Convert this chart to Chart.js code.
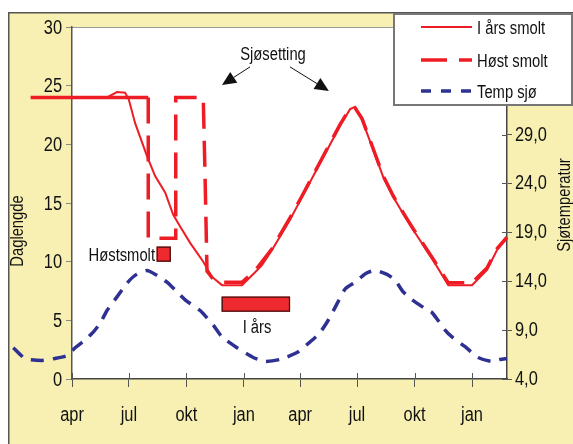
<!DOCTYPE html>
<html>
<head>
<meta charset="utf-8">
<script src="https://cdn.jsdelivr.net/npm/chart.js@4.4.1/dist/chart.umd.min.js"></script>
<style>
  html, body { margin: 0; padding: 0; background: #fff; }
  #wrap { width: 573px; height: 444px; position: relative; }
</style>
</head>
<body>
<div id="wrap"><canvas id="c" width="573" height="444"></canvas></div>
<script>
// ---------- DATA (x = days after 1 April, year 1) ----------
const monthTickDays = [0, 91, 183, 275, 365, 456, 548, 640];
const monthLabels   = ['apr', 'jul', 'okt', 'jan', 'apr', 'jul', 'okt', 'jan'];

const leftTicks  = [0, 5, 10, 15, 20, 25, 30];
const rightTicks = [4, 9, 14, 19, 24, 29, 34, 39];

// I års smolt (daylength, hours)
const aarsDays   = [-66, 56, 72, 85, 91, 101, 120, 133, 149, 162, 173, 189, 210, 224, 240, 272, 293, 304, 320, 349, 365, 386, 408, 429, 445, 453, 464, 480, 498, 514, 533, 546, 578, 602, 640, 664, 680, 696];
const aarsValues = [24.0, 24.0, 24.45, 24.4, 23.8, 21.8, 19.0, 17.3, 15.9, 14.0, 13.0, 11.6, 10.0, 8.7, 8.0, 8.0, 9.1, 9.7, 11.0, 13.6, 15.2, 17.3, 19.5, 21.6, 23.0, 23.2, 22.1, 19.8, 17.2, 15.5, 13.8, 12.7, 10.1, 8.0, 8.0, 9.3, 11.0, 12.0];

// Høst smolt (daylength, hours)
const hostDays   = [-66, 122, 122, 166, 166, 210, 213, 216, 226, 240, 272, 293, 320, 349, 365, 386, 408, 429, 445, 453, 464, 480, 498, 514, 533, 546, 578, 602, 640, 664, 680, 696];
const hostValues = [24.0, 24.0, 12.0, 12.0, 24.0, 24.0, 17.0, 9.2, 8.5, 8.25, 8.25, 9.25, 11.1, 13.75, 15.3, 17.4, 19.6, 21.7, 23.1, 23.1, 22.2, 19.9, 17.3, 15.6, 13.9, 12.8, 10.2, 8.2, 8.2, 9.45, 11.1, 12.1];

// Temp sjø (°C)
const tempDays   = [-94, -75, -48, -27, -8, 5, 21, 34, 45, 56, 72, 88, 101, 120, 136, 152, 165, 181, 205, 226, 240, 264, 290, 309, 333, 360, 381, 395, 408, 420, 437, 453, 470, 485, 504, 517, 530, 544, 565, 576, 597, 608, 629, 650, 672, 685, 696];
const tempValues = [7.2, 6.1, 5.9, 6.1, 6.4, 7.2, 8.0, 8.8, 9.7, 11.0, 12.4, 13.8, 14.6, 15.1, 14.6, 13.9, 13.1, 12.1, 11.0, 9.5, 8.3, 7.2, 6.2, 5.8, 6.0, 6.7, 7.8, 8.6, 9.8, 11.2, 13.2, 13.9, 14.8, 15.1, 14.7, 14.1, 12.9, 12.1, 11.2, 10.8, 9.0, 8.3, 7.3, 6.2, 5.8, 6.0, 6.1];

const seriesLabels = ['I års smolt', 'Høst smolt', 'Temp sjø'];
const axisTitles = ['Daglengde', 'Sjøtemperatur'];

// Smolt periods (boxes) and labels
const smoltBoxes = [
  { label: 'Høstsmolt', from: 135.5, to: 158, top: 11.28, bottom: 10.0 },
  { label: 'I års',     from: 239.5, to: 348.8, top: 7.02, bottom: 5.74 }
];
const seaTransferLabel = 'Sjøsetting';
const seaTransferDays  = [240, 411];

// ---------- STYLE ----------
const FONT = "'Liberation Sans', Arial, sans-serif";
const SX = 0.82;               // narrow (condensed) text
const RED = '#EE1C25';
const BLUE = '#2E3192';
const YELLOW = '#F7F0B2';
Chart.defaults.font.family = FONT;
Chart.defaults.color = '#111';

const toXY = (xs, ys) => xs.map((x, i) => ({ x: x, y: ys[i] }));

function txt(ctx, s, x, y, align, size, baseline, rot) {
  ctx.save();
  ctx.translate(x, y);
  if (rot) ctx.rotate(rot);
  ctx.scale(SX, 1);
  ctx.font = size + 'px ' + FONT;
  ctx.textAlign = align;
  ctx.textBaseline = baseline || 'alphabetic';
  ctx.fillStyle = '#111';
  ctx.fillText(s, 0, 0);
  ctx.restore();
}

const bgPlugin = {
  id: 'bg',
  beforeDraw(chart) {
    const { ctx, chartArea: a, width, height } = chart;
    ctx.save();
    ctx.fillStyle = '#fff';
    ctx.fillRect(0, 0, width, height);
    ctx.fillStyle = YELLOW;
    ctx.fillRect(8, 12, width - 8, height - 12);
    ctx.strokeStyle = '#555';
    ctx.lineWidth = 1.5;
    ctx.beginPath();
    ctx.moveTo(8.75, height); ctx.lineTo(8.75, 12.75); ctx.lineTo(width, 12.75);
    ctx.stroke();
    ctx.fillStyle = '#fff';
    ctx.fillRect(a.left, a.top, a.right - a.left, a.bottom - a.top);
    ctx.strokeStyle = '#999';
    ctx.lineWidth = 1;
    ctx.beginPath();
    ctx.moveTo(a.left, a.top + 0.5); ctx.lineTo(a.right, a.top + 0.5);
    ctx.stroke();
    ctx.restore();
  }
};

function arrow(ctx, x1, y1, x2, y2) {
  const ang = Math.atan2(y2 - y1, x2 - x1), L = 14, W = 6.5;
  const bx = x2 - L * Math.cos(ang), by = y2 - L * Math.sin(ang);
  ctx.beginPath(); ctx.moveTo(x1, y1); ctx.lineTo(bx, by); ctx.stroke();
  ctx.beginPath();
  ctx.moveTo(x2, y2);
  ctx.lineTo(bx + W * Math.sin(ang), by - W * Math.cos(ang));
  ctx.lineTo(bx - W * Math.sin(ang), by + W * Math.cos(ang));
  ctx.closePath(); ctx.fill();
}

const annotPlugin = {
  id: 'annot',
  afterDatasetsDraw(chart) {
    const { ctx } = chart;
    const xs = chart.scales.x, ys = chart.scales.y;
    const px = v => xs.getPixelForValue(v), py = v => ys.getPixelForValue(v);
    ctx.save();
    smoltBoxes.forEach(b => {
      const x0 = px(b.from), x1 = px(b.to), y0 = py(b.top), y1 = py(b.bottom);
      ctx.fillStyle = '#EE2A2E';
      ctx.fillRect(x0, y0, x1 - x0, y1 - y0);
      ctx.strokeStyle = '#4a1010';
      ctx.lineWidth = 1.3;
      ctx.strokeRect(x0 + 0.5, y0 + 0.5, x1 - x0 - 1, y1 - y0 - 1);
    });
    txt(ctx, smoltBoxes[0].label, px(132.8), py(10.06), 'right', 18);
    txt(ctx, smoltBoxes[1].label, px(296), py(3.92), 'center', 18);
    txt(ctx, seaTransferLabel, px(321.6), py(27.2), 'center', 18);
    ctx.strokeStyle = '#111';
    ctx.fillStyle = '#111';
    ctx.lineWidth = 1;
    arrow(ctx, px(284.8), py(26.6), px(seaTransferDays[0]), py(25.06));
    arrow(ctx, px(348.8), py(26.6), px(seaTransferDays[1]), py(24.55));
    ctx.restore();
  }
};

const overlayPlugin = {
  id: 'overlay',
  afterDraw(chart) {
    const { ctx, chartArea: a } = chart;
    const sx = chart.scales.x, sy = chart.scales.y, sy2 = chart.scales.y2;
    ctx.save();
    // inner tick marks (cross ticks) on x and right axis
    ctx.strokeStyle = '#555';
    ctx.lineWidth = 1;
    sx.ticks.forEach(t => {
      const x = Math.round(sx.getPixelForValue(t.value)) + 0.5;
      ctx.beginPath(); ctx.moveTo(x, a.bottom - 6); ctx.lineTo(x, a.bottom); ctx.stroke();
    });
    sy2.ticks.forEach(t => {
      const y = Math.round(sy2.getPixelForValue(t.value)) + 0.5;
      ctx.beginPath(); ctx.moveTo(a.right - 5, y); ctx.lineTo(a.right, y); ctx.stroke();
    });
    // tick labels (narrow)
    sx.ticks.forEach(t => txt(ctx, t.label, sx.getPixelForValue(t.value), 421, 'center', 20));
    sy.ticks.forEach(t => txt(ctx, t.label, a.left - 10, sy.getPixelForValue(t.value) + 6.5, 'right', 20));
    sy2.ticks.forEach(t => txt(ctx, t.label, a.right + 8, sy2.getPixelForValue(t.value) + 6, 'left', 20));
    // axis titles
    txt(ctx, axisTitles[0], 18, 231, 'center', 18, 'middle', -Math.PI / 2);
    txt(ctx, axisTitles[1], 565, 205, 'center', 18, 'middle', -Math.PI / 2);
    // legend
    ctx.fillStyle = '#fff';
    ctx.fillRect(393, 13, 180, 92);
    ctx.strokeStyle = '#777';
    ctx.lineWidth = 2;
    ctx.strokeRect(394, 14, 178, 91);
    const rows = [27, 60, 91];
    const legendDash = [[], [26, 12], [10, 10]];
    chart.data.datasets.forEach((ds, i) => {
      const y = rows[i];
      ctx.strokeStyle = ds.borderColor;
      ctx.lineWidth = ds.borderWidth;
      ctx.setLineDash(legendDash[i]);
      ctx.beginPath(); ctx.moveTo(421, y); ctx.lineTo(472, y); ctx.stroke();
      ctx.setLineDash([]);
      txt(ctx, ds.label, 477, y + 7, 'left', 18);
    });
    ctx.restore();
  }
};

new Chart(document.getElementById('c'), {
  type: 'line',
  data: {
    datasets: [
      {
        label: seriesLabels[0],
        data: toXY(aarsDays, aarsValues),
        borderColor: RED, borderWidth: 2, pointRadius: 0, tension: 0,
        yAxisID: 'y', clip: false
      },
      {
        label: seriesLabels[1],
        data: toXY(hostDays, hostValues),
        borderColor: RED, borderWidth: 3.5, pointRadius: 0, tension: 0,
        borderDash: [26, 12],
        segment: { borderDash: c => c.p0DataIndex === 0 ? [] : [26, 12] },
        yAxisID: 'y', clip: false
      },
      {
        label: seriesLabels[2],
        data: toXY(tempDays, tempValues),
        borderColor: BLUE, borderWidth: 3.5, pointRadius: 0, tension: 0.2,
        borderDash: [13, 9],
        yAxisID: 'y2', clip: false
      }
    ]
  },
  options: {
    responsive: false,
    animation: false,
    devicePixelRatio: 1,
    layout: { padding: { top: 27, left: 0, right: 0, bottom: 0 } },
    plugins: { legend: { display: false }, tooltip: { enabled: false } },
    scales: {
      x: {
        type: 'linear',
        bounds: 'data',
        afterDataLimits: s => { s.min = 0; s.max = 696; },
        afterBuildTicks: s => { s.ticks = monthTickDays.map(v => ({ value: v })); },
        afterFit: s => { s.height = 65; },
        ticks: { display: false, autoSkip: false, maxRotation: 0, callback: (v, i) => monthLabels[i] },
        grid: { drawOnChartArea: false, drawTicks: true, tickLength: 8, color: '#555', lineWidth: 1 },
        border: { color: '#444', width: 1.5 }
      },
      y: {
        position: 'left',
        min: 0, max: 30,
        afterBuildTicks: s => { s.ticks = leftTicks.map(v => ({ value: v })); },
        afterFit: s => { s.width = 72; },
        ticks: { display: false },
        grid: { drawOnChartArea: false, drawTicks: true, tickLength: 6, color: '#888', lineWidth: 1 },
        border: { color: '#555', width: 1.5 }
      },
      y2: {
        position: 'right',
        min: 4, max: 40,
        afterBuildTicks: s => { s.ticks = rightTicks.map(v => ({ value: v })); },
        afterFit: s => { s.width = 66; },
        ticks: { display: false, callback: v => v.toFixed(1).replace('.', ',') },
        grid: { drawOnChartArea: false, drawTicks: true, tickLength: 5, color: '#555', lineWidth: 1 },
        border: { color: '#444', width: 1.5 }
      }
    }
  },
  plugins: [bgPlugin, annotPlugin, overlayPlugin]
});
</script>
</body>
</html>
